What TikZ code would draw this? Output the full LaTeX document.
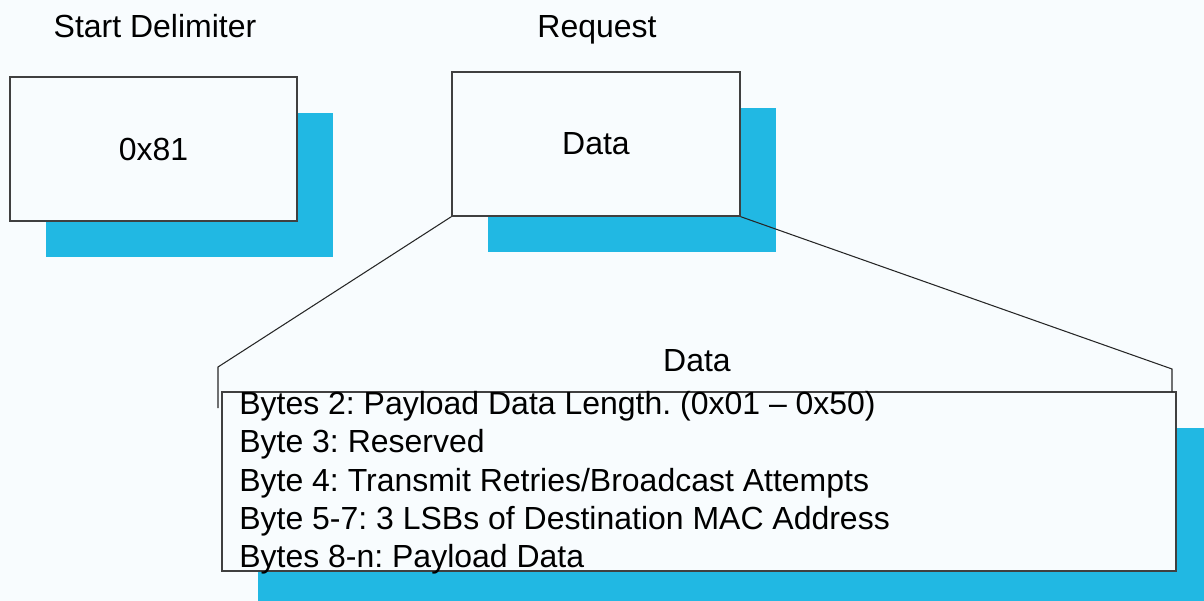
\documentclass[tikz,border=0pt]{standalone}
\usepackage{fontspec}
\setmainfont{Liberation Sans}
\usepackage{xcolor}
\usetikzlibrary{shadows}
\definecolor{pagebg}{HTML}{F8FCFE}
\definecolor{dropcyan}{HTML}{21B8E3}
\definecolor{edgegray}{HTML}{404040}
\frenchspacing

\begin{document}
\begin{tikzpicture}[x=0.02cm, y=-0.02cm,
  field/.style={rectangle, draw=edgegray, line width=0.8pt, fill=pagebg, inner sep=0pt,
    general shadow={fill=dropcyan, draw=none, shadow xshift=0.72cm, shadow yshift=-0.72cm}},
  caption/.style={inner sep=0pt, font=\fontsize{18.2}{21.8}\selectfont},
  zoomline/.style={draw=black!85, line width=0.6pt}]

\fill[pagebg] (0,0) rectangle (1204,601);
\useasboundingbox (0,0) rectangle (1204,601);

\node (startlbl) [caption, anchor=base] at (155,38) {Start Delimiter};
\node (reqlbl) [caption, anchor=base] at (597,38) {Request};

\node (start) [field, minimum width=5.74cm, minimum height=2.88cm, font=\fontsize{18.2}{21.8}\selectfont] at (153.5,149) {0x81};

\node (req) [field, minimum width=5.76cm, minimum height=2.88cm, font=\fontsize{18.2}{21.8}\selectfont] at (596,144) {Data};

\node (datalbl) [caption] at (697,361) {Data};

\node (detail) [field, minimum width=19.08cm, minimum height=3.58cm] at (699,481.5) {};

\node (bytes) [caption, align=left, anchor=north west] at (239,391) {Bytes 2: Payload Data Length. (0x01 – 0x50)\\
Byte 3: Reserved\\
Byte 4: Transmit Retries/Broadcast Attempts\\
Byte 5-7: 3 LSBs of Destination MAC Address\\
Bytes 8-n: Payload Data};

\coordinate (leftknee) at (218,367);
\coordinate (leftfoot) at (218,408);
\coordinate (rightknee) at (1172,369);
\coordinate (rightfoot) at (1172,392);

\draw[zoomline] (req.south west) -- (leftknee) -- (leftfoot);
\draw[zoomline] (req.south east) -- (rightknee) -- (rightfoot);

\end{tikzpicture}
\end{document}
